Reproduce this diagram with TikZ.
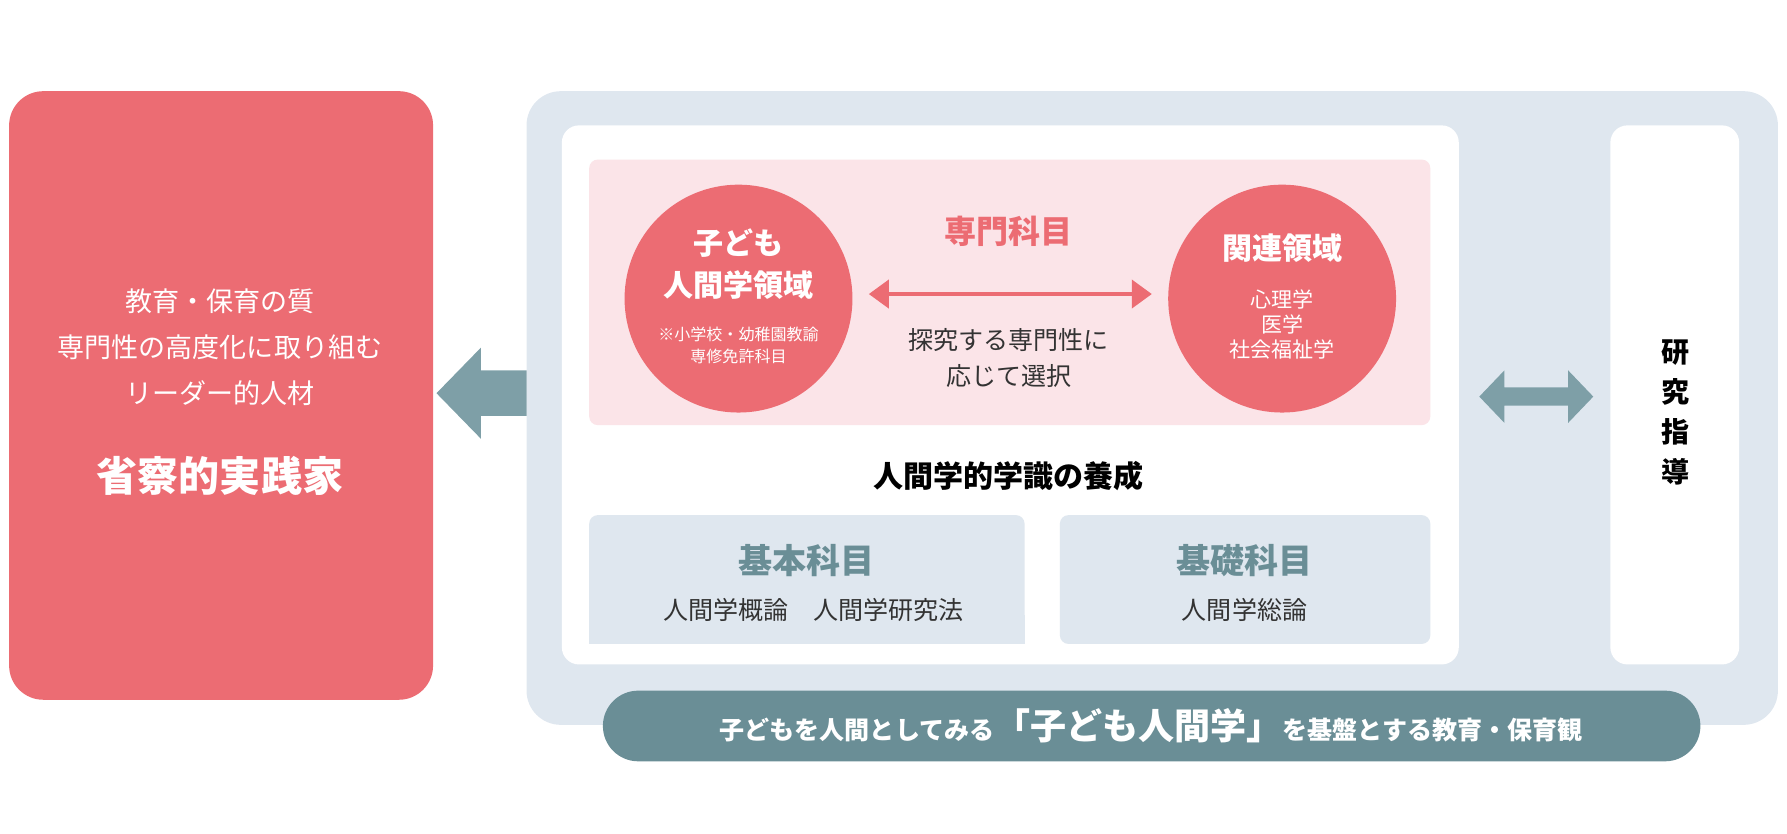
\documentclass[tikz,border=0pt]{standalone}
\usepackage{fontspec}
\setmainfont{Noto Sans CJK JP}
\usetikzlibrary{arrows.meta}
\definecolor{rosered}{HTML}{EC6C73}
\definecolor{rosepale}{HTML}{FBE4E8}
\definecolor{greypale}{HTML}{DFE7EF}
\definecolor{tealdark}{HTML}{6A8E96}
\definecolor{tealarrow}{HTML}{7E9FA7}
\definecolor{textgrey}{HTML}{333333}
\tikzset{
  panel/.style={draw=none,rounded corners=#1},
  circ/.style={circle,fill=rosered,minimum size=4cm,inner sep=0pt},
  ctext/.style={text=white,align=center,font=\fontsize{10}{13}\selectfont},
  subj/.style={text=tealdark,font=\bfseries\fontsize{17}{20}\selectfont},
  course/.style={text=textgrey,font=\fontsize{12.5}{15}\selectfont}
}
\begin{document}
\begin{tikzpicture}[x=0.02cm,y=-0.02cm]
  \useasboundingbox (0,0) rectangle (1568,731);
  % left box
  \fill[rosered,panel=0.6cm] (8,80) rectangle (380,614);
  \node[text=white,align=center,font=\fontsize{13.5}{23}\selectfont] (quality) at (193,305)
    {教育・保育の質\\専門性の高度化に取り組む\\リーダー的人材};
  \node[text=white,font=\bfseries\fontsize{20.5}{24}\selectfont] (reflect) at (193,418) {省察的実践家};
  % outer frame
  \fill[greypale,panel=0.6cm] (462,80) rectangle (1560,636);
  \fill[white,panel=0.3cm] (493,110) rectangle (1280,583);
  \fill[white,panel=0.3cm] (1413,110) rectangle (1526,583);
  \fill[rosepale,panel=0.15cm] (517,140) rectangle (1255,373);
  % circles
  \node[circ] (child) at (648,262) {};
  \node[circ] (related) at (1125,262) {};
  \node[ctext,font=\bfseries\fontsize{15}{21}\selectfont] (childT) at (648,232) {子ども\\人間学領域};
  \node[ctext,font=\fontsize{8}{11}\selectfont] (childS) at (648,303) {※小学校・幼稚園教諭\\専修免許科目};
  \node[ctext,font=\bfseries\fontsize{15}{18}\selectfont] (relatedT) at (1125,218) {関連領域};
  \node[ctext,font=\fontsize{10.5}{12.5}\selectfont] (relatedS) at (1125,285) {心理学\\医学\\社会福祉学};
  \node[text=rosered,font=\bfseries\fontsize{16}{19}\selectfont] (special) at (885,203) {専門科目};
  \draw[rosered,line width=2pt,{Triangle[length=10pt,width=14pt]}-{Triangle[length=10pt,width=14pt]}]
    (child.east) ++(14,-4) coordinate (aL) (related.west) ++(-14,-4) coordinate (aR) (aL) -- (aR);
  \node[text=textgrey,align=center,font=\fontsize{12.5}{18}\selectfont] (choose) at (885,314) {探究する専門性に\\応じて選択};
  \node[text=black,font=\bfseries\fontsize{15}{18}\selectfont] (learning) at (885,418) {人間学的学識の養成};
  % subject boxes
  \fill[greypale,rounded corners=0.15cm] (517,452) -- (899,452) -- (899,565) -- (517,565) -- cycle;
  \fill[greypale,rounded corners=0.15cm] (930,452) -- (1255,452) -- (1255,565) -- (930,565) -- cycle;
  \fill[greypale] (517,540) rectangle (899,565);
  \node[subj] (basic) at (708,492) {基本科目};
  \node[course] (basicC) at (714,535) {人間学概論\hspace{1em}人間学研究法};
  \node[subj] (found) at (1092,492) {基礎科目};
  \node[course] (foundC) at (1092,535) {人間学総論};
  % research guidance
  \node[text=black,align=center,font=\bfseries\fontsize{14}{20}\selectfont] (guide) at (1470,362) {研\\究\\指\\導};
  % arrows
  \fill[tealarrow] (462,325) -- (422,325) -- (422,305) -- (383,345) -- (422,385) -- (422,365) -- (462,365) -- cycle;
  \fill[tealarrow] (1298,348) -- (1320,325) -- (1320,340) -- (1376,340) -- (1376,325) -- (1398,348)
    -- (1376,371) -- (1376,356) -- (1320,356) -- (1320,371) -- cycle;
  % banner
  \fill[tealdark,rounded corners=0.62cm] (529,606) rectangle (1492,668);
  \node[text=white,font=\bfseries\fontsize{12.5}{15}\selectfont] (banner) at (1010,637)
    {子どもを人間としてみる{\fontsize{18}{20}\selectfont「子ども人間学」}を基盤とする教育・保育観};
\end{tikzpicture}
\end{document}
